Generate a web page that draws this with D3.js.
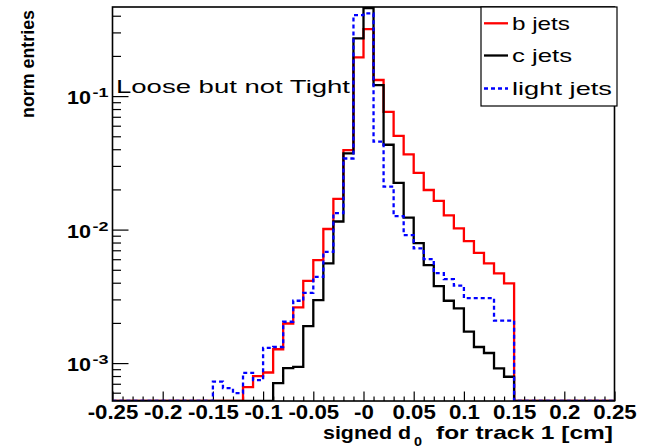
<!DOCTYPE html>
<html><head><meta charset="utf-8">
<script src="https://cdn.jsdelivr.net/npm/d3@7"></script>
<style>body{margin:0;background:#fff}text{font-family:"Liberation Sans",Arial,sans-serif}</style>
</head><body><svg id="c" width="645" height="448"></svg>
<script>
// ---- data ----
const binEdges = [-0.25,-0.24,-0.23,-0.22,-0.21,-0.20,-0.19,-0.18,-0.17,-0.16,
  -0.15,-0.14,-0.13,-0.12,-0.11,-0.10,-0.09,-0.08,-0.07,-0.06,
  -0.05,-0.04,-0.03,-0.02,-0.01,0.00,0.01,0.02,0.03,0.04,
  0.05,0.06,0.07,0.08,0.09,0.10,0.11,0.12,0.13,0.14,
  0.15,0.16,0.17,0.18,0.19,0.20,0.21,0.22,0.23,0.24,0.25];
const bJets = [0,0,0,0,0,0,0,0,0,0,
  0,0,0,6.6e-4,8.0e-4,8.5e-4,1.27e-3,1.98e-3,2.61e-3,4.13e-3,
  5.9e-3,1.01e-2,1.70e-2,3.94e-2,0.195,0.318,0.132,0.0763,0.0504,0.0366,
  0.0266,0.0198,0.0164,0.0128,0.0102,8.2e-3,6.7e-3,5.58e-3,4.70e-3,3.95e-3,
  0,0,0,0,0,0,0,0,0,0];
const cJets = [0,0,0,0,0,0,0,0,0,0,
  0,0,0,0,0,0,7.08e-4,9.17e-4,9.38e-4,1.89e-3,
  2.96e-3,5.58e-3,1.15e-2,3.72e-2,0.271,0.456,0.121,0.0432,0.0224,0.0123,
  7.92e-3,5.42e-3,3.77e-3,2.93e-3,2.57e-3,1.72e-3,1.32e-3,1.19e-3,9.13e-4,7.9e-4,
  0,0,0,0,0,0,0,0,0,0];
const lightJets = [0,0,0,0,0,0,0,0,0,0,
  7.27e-4,6.5e-4,5.96e-4,8.46e-4,7.46e-4,1.30e-3,1.32e-3,2.04e-3,2.93e-3,3.36e-3,
  4.43e-3,6.82e-3,1.33e-2,3.41e-2,0.404,0.416,0.0456,0.0210,0.0126,9.1e-3,
  7.23e-3,6.01e-3,4.72e-3,4.26e-3,3.81e-3,3.07e-3,3.07e-3,3.07e-3,2.08e-3,2.08e-3,
  0,0,0,0,0,0,0,0,0,0];
const seriesNames = ["b jets","c jets","light jets"];
const xMajorTicks = [-0.25,-0.2,-0.15,-0.1,-0.05,0,0.05,0.1,0.15,0.2,0.25];
const xTickLabels = ["-0.25","-0.2","-0.15","-0.1","-0.05","-0","0.05","0.1","0.15","0.2","0.25"];
const yMajorTicks = [0.1,0.01,0.001];
const yTickExponents = ["-1","-2","-3"];
const yMinorTicks = [6e-4,7e-4,8e-4,9e-4,2e-3,3e-3,4e-3,5e-3,6e-3,7e-3,8e-3,9e-3,
  2e-2,3e-2,4e-2,5e-2,6e-2,7e-2,8e-2,9e-2,0.2,0.3,0.4];
const xTitle = ["signed d","0","for track 1 [cm]"];
const yTitle = "norm entries";
const annotation = "Loose but not Tight";

// ---- layout ----
const L = 112.5, R = 614.5, T = 7, B = 401;
const svg = d3.select("#c");
const x = d3.scaleLinear().domain([-0.25,0.25]).range([L,R]);
const y = d3.scaleLog().domain([5.2e-4,0.465]).range([B,T]);

function fit(sel, w){ sel.attr("textLength", w).attr("lengthAdjust","spacingAndGlyphs"); return sel; }

svg.append("defs").append("clipPath").attr("id","clip")
  .append("rect").attr("x",L).attr("y",T).attr("width",R-L).attr("height",B-T);

// minor x ticks
const xMinor = binEdges.filter(e => !xMajorTicks.some(m => Math.abs(m-e)<1e-9));
svg.append("g").attr("transform",`translate(0,${B})`)
  .call(d3.axisBottom(x).tickValues(xMinor).tickSizeInner(-4.5).tickSizeOuter(0).tickFormat(""))
  .call(g=>g.select(".domain").remove())
  .selectAll("line").attr("stroke","#000").attr("stroke-width",1.2);
const xa = svg.append("g").attr("transform",`translate(0,${B})`)
  .call(d3.axisBottom(x).tickValues(xMajorTicks).tickSizeInner(-9.5).tickSizeOuter(0)
    .tickFormat((d,i)=>xTickLabels[i]))
  .call(g=>g.select(".domain").remove());
xa.selectAll("line").attr("stroke","#000").attr("stroke-width",1.2);
xa.selectAll("text").attr("dy",null).attr("y",18).attr("fill","#000")
  .style("font-size","21px").style("font-weight","bold")
  .each(function(){ const w=this.getComputedTextLength(); fit(d3.select(this), w*1.06); });

// y ticks
svg.append("g").attr("transform",`translate(${L},0)`)
  .call(d3.axisLeft(y).tickValues(yMinorTicks).tickSizeInner(-8.5).tickSizeOuter(0).tickFormat(""))
  .call(g=>g.select(".domain").remove())
  .selectAll("line").attr("stroke","#000").attr("stroke-width",1.2);
const ya = svg.append("g").attr("transform",`translate(${L},0)`)
  .call(d3.axisLeft(y).tickValues(yMajorTicks).tickSizeInner(-16).tickSizeOuter(0).tickFormat(""))
  .call(g=>g.select(".domain").remove());
ya.selectAll("line").attr("stroke","#000").attr("stroke-width",1.2);
yMajorTicks.forEach((v,i)=>{
  fit(svg.append("text").attr("x",67).attr("y",y(v)+8).style("font-size","18px").style("font-weight","bold").text("10"),24);
  fit(svg.append("text").attr("x",92.5).attr("y",y(v)+1).style("font-size","13px").style("font-weight","bold").text(yTickExponents[i]),16);
});

// histograms
const colors = ["#ff0000","#000000","#0000ff"];
const dashes = [null,null,"4,3"];
const line = d3.line()
  .x(d=>x(d[0]))
  .y(d=> d[1]>0 ? y(d[1]) : B)
  .curve(d3.curveStepAfter);
[bJets,cJets,lightJets].forEach((vals,k)=>{
  const pts = vals.map((v,i)=>[binEdges[i],v]);
  pts.push([binEdges[binEdges.length-1], vals[vals.length-1]]);
  svg.append("path").attr("clip-path","url(#clip)").attr("d",line(pts))
    .attr("fill","none").attr("stroke",colors[k]).attr("stroke-width",2.3)
    .attr("stroke-dasharray",dashes[k]);
});

// frame
svg.append("rect").attr("x",L).attr("y",T).attr("width",R-L).attr("height",B-T)
  .attr("fill","none").attr("stroke","#000").attr("stroke-width",1.6);

// annotation
fit(svg.append("text").attr("x",116).attr("y",93).style("font-size","19px").text(annotation),234);

// legend
svg.append("rect").attr("x",481).attr("y",7).attr("width",136).attr("height",99)
  .attr("fill","#fff").attr("stroke","#000").attr("stroke-width",1.2);
const legY = [23.3,55.5,88.5], legW = [58,60,100];
seriesNames.forEach((n,k)=>{
  svg.append("line").attr("x1",484).attr("x2",508).attr("y1",legY[k]).attr("y2",legY[k])
    .attr("stroke",colors[k]).attr("stroke-width",2.3).attr("stroke-dasharray",dashes[k]);
  fit(svg.append("text").attr("x",512).attr("y",legY[k]+6.5).style("font-size","19px").text(n),legW[k]);
});

// axis titles
fit(svg.append("text").attr("x",323).attr("y",439).style("font-size","19px").style("font-weight","bold").text(xTitle[0]),88);
fit(svg.append("text").attr("x",414).attr("y",446).style("font-size","13px").style("font-weight","bold").text(xTitle[1]),8);
fit(svg.append("text").attr("x",436).attr("y",439).style("font-size","19px").style("font-weight","bold").text(xTitle[2]),177);
fit(svg.append("text").attr("transform","translate(34,10) rotate(-90)").attr("text-anchor","end")
  .style("font-size","19px").style("font-weight","bold").text(yTitle),108);
</script></body></html>
